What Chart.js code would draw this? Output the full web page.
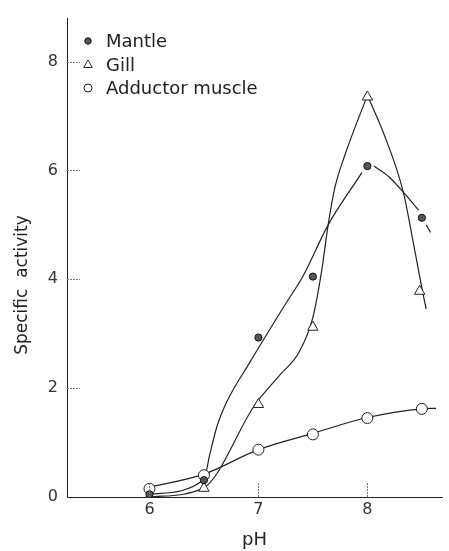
<!DOCTYPE html>
<html>
<head>
<meta charset="utf-8">
<script src="https://cdn.jsdelivr.net/npm/chart.js@4.4.0/dist/chart.umd.min.js"></script>
<style>
  body { margin: 0; background: #fff; }
  canvas { display: block; }
</style>
</head>
<body>
<canvas id="myChart" width="449" height="551"></canvas>
<script>
// measured points (pH, specific activity)
const mantlePH = [6, 6.5, 7, 7.5, 8, 8.5];
const mantleValues = [0.05, 0.31, 2.93, 4.05, 6.08, 5.13];
const gillPH = [6, 6.5, 7, 7.5, 8, 8.48];
const gillValues = [0.0, 0.16, 1.7, 3.12, 7.35, 3.78];
const adductorPH = [6, 6.5, 7, 7.5, 8, 8.5];
const adductorValues = [0.15, 0.4, 0.87, 1.15, 1.45, 1.62];

// hand-drawn fitted curves (null = break in the line)
const mantleCurvePH = [6.0, 6.5, 6.55, 6.62, 6.71, 6.92, 7.25, 7.41, 7.64, 7.95, 8.0, 8.06, 8.2, 8.33, 8.47, 8.5, 8.54, 8.58];
const mantleCurveValues = [0.05, 0.32, 0.75, 1.3, 1.75, 2.47, 3.55, 4.06, 5.0, 5.96, null, 6.08, 5.88, 5.6, 5.27, null, 5.0, 4.86];
const gillRisePH = [6.0, 6.49, 6.97, 7.2, 7.37, 7.5, 7.58, 7.64, 7.7, 7.79, 8.0];
const gillRiseValues = [0.0, 0.16, 1.7, 2.25, 2.65, 3.3, 4.15, 5.0, 5.67, 6.26, 7.38];
const gillFallPH = [8.0, 8.15, 8.33, 8.42, 8.51, 8.54];
const gillFallValues = [7.38, 6.68, 5.6, 4.69, 3.74, 3.45];
const adductorCurvePH = [5.98, 6.5, 7.0, 7.5, 8.0, 8.5, 8.63];
const adductorCurveValues = [0.17, 0.42, 0.87, 1.17, 1.46, 1.62, 1.63];

const xTicks = [6, 7, 8];
const yTicks = [0, 2, 4, 6, 8];
const seriesNames = ['Mantle', 'Gill', 'Adductor muscle'];

const ink = '#222';
const fontFamily = "'DejaVu Sans', sans-serif";

const toPoints = (xs, ys) => xs.map((x, i) => ({ x, y: ys[i] }));

const markerStyles = [
  { pointStyle: 'circle', radius: 3.6, fill: '#555', border: '#111' },
  { pointStyle: 'triangle', radius: 6, fill: '#fff', border: ink },
  { pointStyle: 'circle', radius: 5.5, fill: '#fff', border: ink }
];

const markerDataset = (label, xs, ys, style) => ({
  label,
  data: toPoints(xs, ys),
  showLine: false,
  pointStyle: style.pointStyle,
  pointRadius: style.radius,
  pointBackgroundColor: style.fill,
  pointBorderColor: style.border,
  pointBorderWidth: 1,
  order: 0
});

const curveDataset = (xs, ys) => ({
  data: toPoints(xs, ys),
  showLine: true,
  spanGaps: false,
  borderColor: ink,
  borderWidth: 1.2,
  cubicInterpolationMode: 'monotone',
  pointRadius: 0,
  order: 1
});

// legend in the top-left of the plot, inner tick marks, rotated y title
const extras = {
  id: 'extras',
  afterDraw(chart) {
    const { ctx, chartArea, scales } = chart;
    ctx.save();
    ctx.strokeStyle = '#777';
    ctx.lineWidth = 1;
    ctx.setLineDash([2, 1]);
    yTicks.slice(1).forEach(v => {
      const y = Math.round(scales.y.getPixelForValue(v)) + 0.5;
      ctx.beginPath();
      ctx.moveTo(chartArea.left, y);
      ctx.lineTo(chartArea.left + 13, y);
      ctx.stroke();
    });
    xTicks.forEach(v => {
      const x = Math.round(scales.x.getPixelForValue(v)) + 0.5;
      ctx.beginPath();
      ctx.moveTo(x, chartArea.bottom);
      ctx.lineTo(x, chartArea.bottom - 15);
      ctx.stroke();
    });
    ctx.setLineDash([]);

    // legend
    const rowY = [41, 65, 88];
    ctx.font = "18px " + fontFamily;
    ctx.textBaseline = 'middle';
    seriesNames.forEach((name, i) => {
      const s = markerStyles[i];
      const r = i === 0 ? 3.2 : (i === 1 ? 5 : 4);
      ctx.fillStyle = s.fill;
      ctx.strokeStyle = s.border;
      Chart.helpers.drawPoint(ctx, { pointStyle: s.pointStyle, radius: r, borderWidth: 1, rotation: 0 }, 88, rowY[i]);
      ctx.fillStyle = ink;
      ctx.fillText(name, 106, rowY[i] + 1);
    });

    // y axis title
    ctx.translate(23, 285);
    ctx.rotate(-Math.PI / 2);
    ctx.textAlign = 'center';
    ctx.font = "17px " + fontFamily;
    ctx.fillText('Specific  activity', 0, 0);
    ctx.restore();
  }
};

const chart = new Chart(document.getElementById('myChart'), {
  type: 'scatter',
  data: {
    datasets: [
      markerDataset('Mantle', mantlePH, mantleValues, markerStyles[0]),
      markerDataset('Gill', gillPH, gillValues, markerStyles[1]),
      markerDataset('Adductor muscle', adductorPH, adductorValues, markerStyles[2]),
      curveDataset(mantleCurvePH, mantleCurveValues),
      curveDataset(gillRisePH, gillRiseValues),
      curveDataset(gillFallPH, gillFallValues),
      curveDataset(adductorCurvePH, adductorCurveValues)
    ]
  },
  options: {
    responsive: false,
    animation: false,
    layout: { padding: { top: 10, right: 0, left: 0, bottom: 0 } },
    plugins: {
      legend: { display: false },
      tooltip: { enabled: false }
    },
    scales: {
      x: {
        type: 'linear',
        min: 5.243,
        max: 8.685,
        afterBuildTicks: scale => { scale.ticks = xTicks.map(v => ({ value: v })); },
        afterFit: scale => { scale.height = 54; },
        grid: { drawOnChartArea: false, drawTicks: false },
        border: { color: ink, width: 1 },
        ticks: { color: '#333', padding: 3, font: { family: fontFamily, size: 16 } },
        title: {
          display: true,
          text: 'pH',
          color: ink,
          padding: { top: 0, bottom: 0 },
          font: { family: fontFamily, size: 18 }
        }
      },
      y: {
        min: 0,
        max: 8.79,
        afterBuildTicks: scale => { scale.ticks = yTicks.map(v => ({ value: v })); },
        afterFit: scale => { scale.width = 67; },
        grid: { drawOnChartArea: false, drawTicks: false },
        border: { color: ink, width: 1 },
        ticks: { color: '#333', padding: 9, font: { family: fontFamily, size: 16 } }
      }
    }
  },
  plugins: [extras]
});
</script>
</body>
</html>
